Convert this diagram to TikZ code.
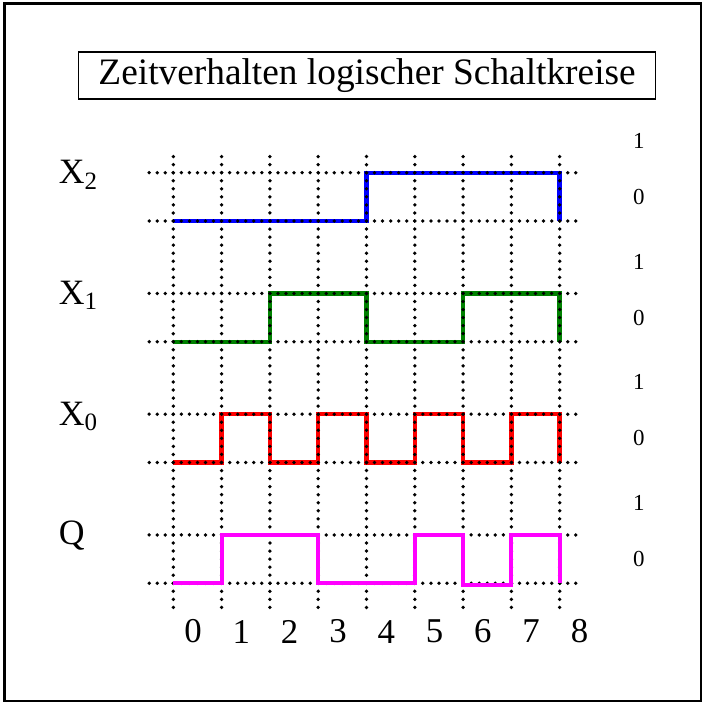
\documentclass[tikz,border=0pt]{standalone}
\usepackage{fontspec}
\setmainfont{Liberation Serif}
\usetikzlibrary{positioning}
\definecolor{qmagenta}{RGB}{255,0,255}
\tikzset{
    gridline/.style={draw=black, line width=2.2pt, line cap=round, dash pattern=on 0pt off 0.16667cm},
    signal/.style={line width=2.6pt, line join=miter},
    outsignal/.style={signal, draw=qmagenta, line width=2.4pt},
    titlebox/.style={rectangle, draw=black, line width=0.9pt, minimum width=11.95cm, minimum height=0.97cm, inner sep=0pt, font=\fontsize{22}{24}\selectfont},
    siglabel/.style={anchor=base west, font=\fontsize{21}{22}\selectfont},
    levellabel/.style={font=\fontsize{13.5}{14}\selectfont},
    ticklabel/.style={font=\fontsize{20.5}{22}\selectfont}
}

\begin{document}
\begin{tikzpicture}
    \useasboundingbox (0,0) rectangle (14.576,14.576);
    \draw[line width=1.5pt] (0.093,0.062) rectangle (14.513,14.5);
    \node (title) [titlebox] at (7.6,13.01) {Zeitverhalten logischer Schaltkreise};

    \node (lblXtwo) [siglabel] at (1.097,10.77) {X\textsubscript{2}};
    \node (lblXone) [siglabel] at (1.097,8.27) {X\textsubscript{1}};
    \node (lblXzero) [siglabel] at (1.097,5.77) {X\textsubscript{0}};
    \node (lblQ) [siglabel] at (1.097,3.30) {Q};

    \begin{scope}[shift={(3.588,0)}]
    % inputs, under the grid
    \draw[signal, blue] (0,10) -- (4,10) -- (4,11) -- (8,11) -- (8,10);
    \draw[signal, green!50!black] (0,7.5) -- (2,7.5) -- (2,8.5) -- (4,8.5) -- (4,7.5)
        -- (6,7.5) -- (6,8.5) -- (8,8.5) -- (8,7.5);
    \draw[signal, red] (0,5) -- (1,5) -- (1,6) -- (2,6) -- (2,5) -- (3,5) -- (3,6) -- (4,6)
        -- (4,5) -- (5,5) -- (5,6) -- (6,6) -- (6,5) -- (7,5) -- (7,6) -- (8,6) -- (8,5);

    % grid
    \foreach \t in {0,...,8}
        \draw[gridline] (\t,2.0) -- (\t,11.5);
    \foreach \y in {2.5,3.5,5,6,7.5,8.5,10,11}
        \draw[gridline] (-0.5,\y) -- (8.5,\y);

    % output on top
    \draw[outsignal] (0,2.5) -- (1,2.5) -- (1,3.5) -- (3,3.5) -- (3,2.5) -- (5,2.5) -- (5,3.5)
        -- (6,3.5) -- (6,2.47) -- (7,2.47) -- (7,3.5) -- (8,3.5) -- (8,2.5);

    % levels and time steps
    \foreach \lo [count=\i] in {10,7.5,5,2.5} {
        \node (one\i) [levellabel] at (9.64,\lo+1.66) {1};
        \node (zero\i) [levellabel] at (9.64,\lo+0.5) {0};
    }
    \foreach \t in {0,...,8}
        \node (t\t) [ticklabel] at (\t+0.41,1.5) {\t};
    \end{scope}
\end{tikzpicture}
\end{document}
